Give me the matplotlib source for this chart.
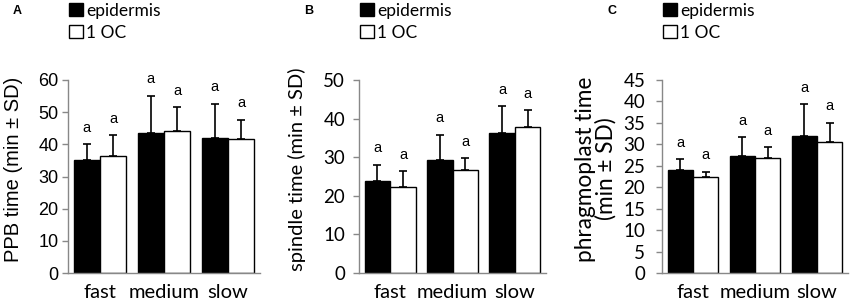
import numpy as np
import matplotlib
matplotlib.use('Agg')
import matplotlib.pyplot as plt
from matplotlib.patches import Patch

plt.rcParams['font.family'] = ['Lato', 'DejaVu Sans']

categories = ['fast', 'medium', 'slow']
series_names = ['epidermis', '1 OC']

# panel A: PPB time
ppb_epi = [35.0, 43.5, 42.0]
ppb_epi_sd = [5.0, 11.5, 10.5]
ppb_oc = [36.3, 44.2, 41.6]
ppb_oc_sd = [6.5, 7.3, 5.9]

# panel B: spindle time
spin_epi = [23.8, 29.2, 36.2]
spin_epi_sd = [4.2, 6.6, 7.0]
spin_oc = [22.2, 26.8, 37.8]
spin_oc_sd = [4.1, 2.9, 4.3]

# panel C: phragmoplast time
phr_epi = [24.0, 27.2, 32.0]
phr_epi_sd = [2.5, 4.4, 7.3]
phr_oc = [22.5, 26.9, 30.5]
phr_oc_sd = [1.1, 2.4, 4.5]

arial = ['Liberation Sans', 'DejaVu Sans']
calibri = ['Lato', 'DejaVu Sans']

panels = [
    # label, ylabel, data..., ymax, step, tick font, tick size, tick pad, ylabel size, ylabel x centre px
    ('A', 'PPB time (min ± SD)', ppb_epi, ppb_epi_sd, ppb_oc, ppb_oc_sd, 60, 10,
     arial, 13, 3, 14.5, 14),
    ('B', 'spindle time (min ± SD)', spin_epi, spin_epi_sd, spin_oc, spin_oc_sd, 50, 10,
     calibri, 13.5, 6, 14.5, 297),
    ('C', 'phragmoplast time\n(min ± SD)', phr_epi, phr_epi_sd, phr_oc, phr_oc_sd, 45, 5,
     calibri, 13.5, 8, 16.3, 596),
]

# axes boxes in pixels: left, right
px_boxes = [(68, 260), (359, 546), (662, 848)]
W, H = 850, 305
bottom_px, top_px = 273, 80

fig = plt.figure(figsize=(8.5, 3.05), dpi=100)
x = np.arange(len(categories))
bw = 0.41
gray = '#888888'

for (label, ylab, epi, epi_sd, oc, oc_sd, ymax, step, tfont, tsize, tpad, ylsize, ylx), (l, r) in zip(panels, px_boxes):
    ax = fig.add_axes([l / W, 1 - bottom_px / H, (r - l) / W, (bottom_px - top_px) / H])
    ax.bar(x - bw / 2, epi, bw, color='black', edgecolor='black', linewidth=1)
    ax.bar(x + bw / 2, oc, bw, color='white', edgecolor='black', linewidth=1)
    ax.errorbar(x - bw / 2, epi, yerr=[np.zeros(3), epi_sd], fmt='none',
                ecolor='black', elinewidth=1.2, capsize=3, capthick=1.2)
    ax.errorbar(x + bw / 2, oc, yerr=[np.zeros(3), oc_sd], fmt='none',
                ecolor='black', elinewidth=1.2, capsize=3, capthick=1.2)
    tops = list(np.array(epi) + np.array(epi_sd)) + list(np.array(oc) + np.array(oc_sd))
    xs = list(x - bw / 2) + list(x + bw / 2)
    for xi, ti in zip(xs, tops):
        ax.annotate('a', (xi, ti), xytext=(0, 7), textcoords='offset points',
                    ha='center', va='bottom', fontsize=10.5, family=arial)
    ax.set_xlim(-0.5, 2.5)
    ax.set_ylim(0, ymax)
    ax.set_yticks(np.arange(0, ymax + 0.1, step))
    ax.set_xticks(x)
    ax.set_xticklabels(categories, fontsize=14.5)
    ax.tick_params(axis='y', labelsize=tsize, color=gray, length=4, width=1, pad=tpad)
    ax.tick_params(axis='x', length=0, pad=8)
    for t in ax.get_yticklabels():
        t.set_family(tfont)
    for s in ['top', 'right']:
        ax.spines[s].set_visible(False)
    for s in ['left', 'bottom']:
        ax.spines[s].set_color(gray)
        ax.spines[s].set_linewidth(1)
    fig.text(ylx / W, 1 - 169 / H, ylab, rotation=90, ha='center', va='center',
             fontsize=ylsize, family=tfont, linespacing=0.95, multialignment='center')

    handles = [Patch(facecolor='black', edgecolor='black'),
               Patch(facecolor='white', edgecolor='black')]
    fig.legend(handles, series_names, loc='upper left',
               bbox_to_anchor=((l - 1) / W, 1 - 1 / H), frameon=False,
               fontsize=12.5, handlelength=0.8, handleheight=0.8,
               handletextpad=0.2, labelspacing=0.35, borderpad=0.1,
               borderaxespad=0)
    fig.text((l - 55) / W, 1 - 11 / H, label, fontsize=9, fontweight='bold',
             va='center', ha='left', family=arial)

fig.savefig('out.png', dpi=100)
